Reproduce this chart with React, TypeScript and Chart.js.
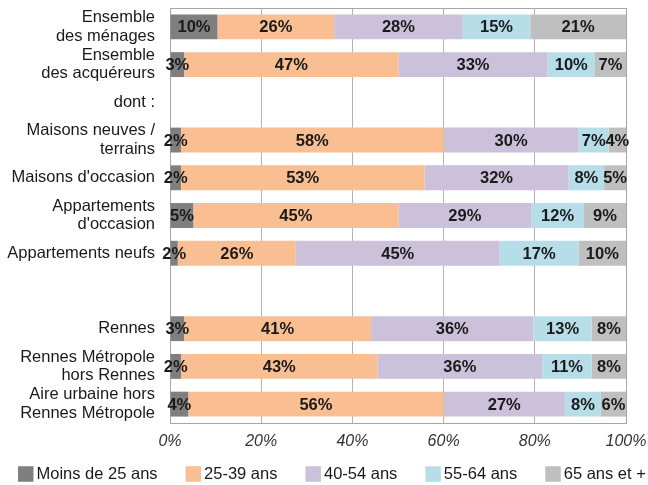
import React, { useEffect, useRef } from "react";
import { Chart, registerables } from "chart.js";

Chart.register(...registerables);

const categories: (string | string[])[] = [
  ["Ensemble", "des ménages"],
  ["Ensemble", "des acquéreurs"],
  "dont :",
  ["Maisons neuves /", "terrains"],
  "Maisons d'occasion",
  ["Appartements", "d'occasion"],
  "Appartements neufs",
  "",
  "Rennes",
  ["Rennes Métropole", "hors Rennes"],
  ["Aire urbaine hors", "Rennes Métropole"],
];

const seriesNames = ["Moins de 25 ans", "25-39 ans", "40-54 ans", "55-64 ans", "65 ans et +"];

const moins25 = [10.4, 3.1, null, 2.4, 2.4, 5.1, 1.7, null, 3.1, 2.4, 4.0];
const ans25_39 = [25.6, 47.0, null, 57.6, 53.4, 45.0, 25.9, null, 41.0, 43.1, 56.0];
const ans40_54 = [28.2, 32.7, null, 29.6, 31.6, 29.1, 44.7, null, 35.6, 36.1, 26.6];
const ans55_64 = [14.8, 10.4, null, 6.6, 7.8, 11.6, 17.3, null, 12.8, 10.9, 7.9];
const ans65plus = [21.0, 6.8, null, 3.8, 4.8, 9.2, 10.4, null, 7.5, 7.5, 5.5];

const xTicks = [0, 20, 40, 60, 80, 100];

const colors = ["#7F7F7F", "#F9BF93", "#CCC1DA", "#B7DEE8", "#BFBFBF"];

const FONT = "'Liberation Sans', Arial, sans-serif";

const frameAndLabels = {
  id: "frameAndLabels",
  beforeDatasetsDraw(chart: any) {
    const { ctx, chartArea } = chart;
    ctx.save();
    ctx.strokeStyle = "#A6A6A6";
    ctx.lineWidth = 1;
    ctx.strokeRect(
      Math.round(chartArea.left) + 0.5,
      Math.round(chartArea.top) + 0.5,
      Math.round(chartArea.right - chartArea.left),
      Math.round(chartArea.bottom - chartArea.top)
    );
    ctx.restore();
  },
  afterDatasetsDraw(chart: any) {
    const { ctx } = chart;
    ctx.save();
    ctx.font = `bold 16.5px ${FONT}`;
    ctx.fillStyle = "#1A1A1A";
    ctx.textAlign = "center";
    ctx.textBaseline = "middle";
    chart.data.datasets.forEach((ds: any, di: number) => {
      const meta = chart.getDatasetMeta(di);
      meta.data.forEach((el: any, i: number) => {
        const v = ds.data[i];
        if (v === null || v === undefined) return;
        const cx = (el.x + el.base) / 2;
        ctx.fillText(Math.round(v) + "%", cx, el.y + 1);
      });
    });
    ctx.restore();
  },
  afterDraw(chart: any) {
    // legend row at the bottom
    const { ctx } = chart;
    ctx.save();
    ctx.font = `16.5px ${FONT}`;
    ctx.textBaseline = "middle";
    ctx.textAlign = "left";
    const box = 15.5;
    const gapText = 3;
    const gapItem = 28;
    const cy = 474;
    let x = 18;
    chart.data.datasets.forEach((ds: any) => {
      ctx.fillStyle = ds.backgroundColor;
      ctx.fillRect(x, cy - box / 2, box, box);
      x += box + gapText;
      ctx.fillStyle = "#1A1A1A";
      ctx.fillText(ds.label, x, cy + 0.5);
      x += ctx.measureText(ds.label).width + gapItem;
    });
    ctx.restore();
  },
};

export default function App() {
  const ref = useRef<HTMLCanvasElement | null>(null);

  useEffect(() => {
    if (!ref.current) return;
    const series = [moins25, ans25_39, ans40_54, ans55_64, ans65plus];
    const chart = new Chart(ref.current, {
      type: "bar",
      data: {
        labels: categories,
        datasets: series.map((d, i) => ({
          label: seriesNames[i],
          data: d,
          backgroundColor: colors[i],
          borderWidth: 0,
          barPercentage: 0.66,
          categoryPercentage: 1,
        })),
      },
      options: {
        indexAxis: "y",
        animation: false,
        responsive: true,
        maintainAspectRatio: false,
        layout: { padding: { top: 8, right: 0, left: 0, bottom: 0 } },
        scales: {
          x: {
            stacked: true,
            min: 0,
            max: 100,
            afterBuildTicks(scale: any) {
              scale.ticks = xTicks.map((v) => ({ value: v }));
            },
            afterFit(scale: any) {
              scale.height = 62;
              scale.paddingRight = 22;
            },
            border: { display: false },
            grid: { color: "#B3B3B3", lineWidth: 1, drawTicks: false },
            ticks: {
              padding: 9,
              color: "#333333",
              font: { family: FONT, size: 16, style: "italic" },
              callback: (v: any) => v + "%",
            },
          },
          y: {
            stacked: true,
            afterFit(scale: any) {
              scale.width = 170;
              scale.paddingTop = 0;
              scale.paddingBottom = 0;
            },
            border: { display: false },
            grid: { display: false, drawTicks: false },
            ticks: {
              padding: 15,
              color: "#1A1A1A",
              autoSkip: false,
              font: { family: FONT, size: 16.5, lineHeight: 1.12 },
            },
          },
        },
        plugins: {
          legend: { display: false },
          tooltip: { enabled: false },
        },
      },
      plugins: [frameAndLabels],
    } as any);
    return () => chart.destroy();
  }, []);

  return (
    <div style={{ position: "absolute", left: 0, top: 0, width: 648, height: 485 }}>
      <canvas ref={ref} />
    </div>
  );
}
